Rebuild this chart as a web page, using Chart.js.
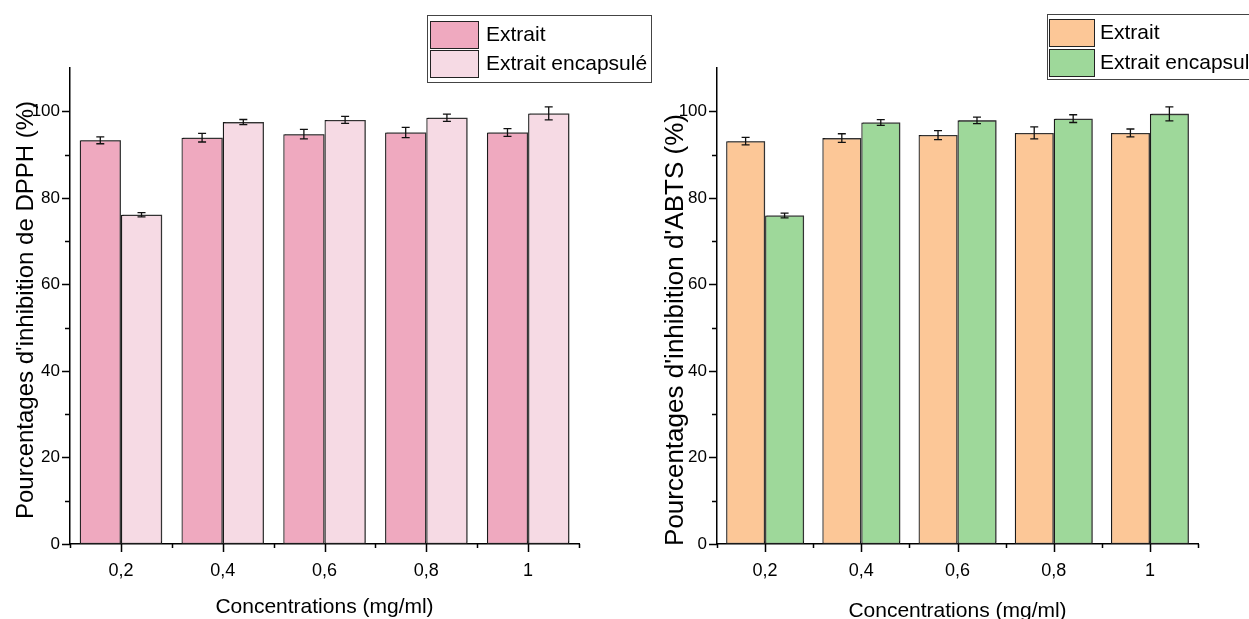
<!DOCTYPE html>
<html>
<head>
<meta charset="utf-8">
<script src="https://cdn.jsdelivr.net/npm/chart.js@4.4.1/dist/chart.umd.min.js"></script>
<style>
  html, body { margin: 0; padding: 0; background: #fff; overflow: hidden; }
  #wrap { position: relative; width: 1249px; height: 619px; }
  canvas { position: absolute; top: 0; }
  #dpph { left: 0; }
  #abts { left: 640px; }
</style>
</head>
<body>
<div id="wrap">
  <canvas id="dpph" width="660" height="619"></canvas>
  <canvas id="abts" width="609" height="619"></canvas>
</div>
<script>
// data
const concentrations = ['0,2', '0,4', '0,6', '0,8', '1'];
const yTicks = [0, 20, 40, 60, 80, 100];

const dpphExtrait = [93.3, 93.9, 94.7, 95.1, 95.1];
const dpphExtraitErr = [0.8, 1.0, 1.1, 1.2, 0.9];
const dpphEncaps = [76.1, 97.5, 98.0, 98.5, 99.5];
const dpphEncapsErr = [0.5, 0.6, 0.8, 0.85, 1.5];

const abtsExtrait = [93.1, 93.8, 94.5, 95.0, 95.0];
const abtsExtraitErr = [0.85, 1.0, 1.05, 1.4, 0.9];
const abtsEncaps = [75.9, 97.4, 97.9, 98.3, 99.4];
const abtsEncapsErr = [0.55, 0.65, 0.75, 0.9, 1.6];

const FONT = '"Liberation Sans", Arial, sans-serif';

// error bars + bar shadow
const errorBars = {
  id: 'errorBars',
  beforeDatasetsDraw(chart) {
    const ctx = chart.ctx;
    ctx.save();
    ctx.shadowColor = 'rgba(60,60,60,0.75)';
    ctx.shadowOffsetX = 1.5;
    ctx.shadowOffsetY = -1.5;
    ctx.shadowBlur = 0;
  },
  afterDatasetsDraw(chart) {
    const ctx = chart.ctx;
    ctx.restore();
    const ys = chart.scales.y;
    ctx.save();
    ctx.strokeStyle = '#111';
    ctx.lineWidth = 1.3;
    chart.data.datasets.forEach((ds, d) => {
      const meta = chart.getDatasetMeta(d);
      ds.err.forEach((e, i) => {
        const x = meta.data[i].x;
        const y1 = ys.getPixelForValue(ds.data[i] + e);
        const y2 = ys.getPixelForValue(ds.data[i] - e);
        ctx.beginPath();
        ctx.moveTo(x, y1); ctx.lineTo(x, y2);
        ctx.moveTo(x - 4, y1); ctx.lineTo(x + 4, y1);
        ctx.moveTo(x - 4, y2); ctx.lineTo(x + 4, y2);
        ctx.stroke();
      });
    });
    ctx.restore();
  }
};

// tick marks, titles and boxed legend
const decorations = {
  id: 'decorations',
  afterDraw(chart, args, opts) {
    const ctx = chart.ctx;
    const xs = chart.scales.x, ys = chart.scales.y;
    const area = chart.chartArea;
    ctx.save();
    ctx.strokeStyle = '#000';
    ctx.lineWidth = 1.5;
    ctx.beginPath();
    for (let v = 0; v <= 100; v += 10) {
      const y = Math.round(ys.getPixelForValue(v)) + 0.5;
      const len = v % 20 === 0 ? 8 : 5;
      ctx.moveTo(area.left - len, y); ctx.lineTo(area.left, y);
    }
    for (let i = 0; i < concentrations.length; i++) {
      const x = Math.round(xs.getPixelForValue(i)) + 0.5;
      ctx.moveTo(x, area.bottom); ctx.lineTo(x, area.bottom + 8);
    }
    for (let i = 0; i <= concentrations.length; i++) {
      const x = Math.round((xs.getPixelForValue(i - 1) + xs.getPixelForValue(i)) / 2) + 0.5;
      ctx.moveTo(x, area.bottom); ctx.lineTo(x, area.bottom + 4);
    }
    ctx.stroke();

    // axis titles
    ctx.fillStyle = '#000';
    ctx.textAlign = 'center';
    ctx.textBaseline = 'alphabetic';
    ctx.font = opts.xTitleSize + 'px ' + FONT;
    ctx.fillText(opts.xTitle, (area.left + area.right) / 2, opts.xTitleY);
    ctx.save();
    ctx.translate(opts.yTitleX, opts.yTitleY);
    ctx.rotate(-Math.PI / 2);
    ctx.textBaseline = 'middle';
    ctx.font = opts.yTitleSize + 'px ' + FONT;
    ctx.fillText(opts.yTitle, 0, 0);
    ctx.restore();

    // legend
    const L = opts.legend;
    ctx.lineWidth = 1;
    ctx.strokeStyle = '#444';
    ctx.strokeRect(L.left + 0.5, L.top + 0.5, L.width, L.height);
    ctx.font = L.size + 'px ' + FONT;
    ctx.textAlign = 'left';
    ctx.textBaseline = 'middle';
    chart.data.datasets.forEach((ds, d) => {
      const top = L.rows[d];
      ctx.fillStyle = ds.backgroundColor;
      ctx.fillRect(L.swX, top, L.swW, L.swH);
      ctx.strokeStyle = '#222';
      ctx.strokeRect(L.swX + 0.5, top + 0.5, L.swW, L.swH);
      ctx.fillStyle = '#000';
      ctx.fillText(ds.label, L.textX, top + L.swH / 2 + 1);
    });
    ctx.restore();
  }
};

function makeChart(id, colors, series, errs, geo) {
  const canvas = document.getElementById(id);
  return new Chart(canvas, {
    type: 'bar',
    data: {
      labels: concentrations,
      datasets: [
        { label: 'Extrait', data: series[0], err: errs[0], backgroundColor: colors[0] },
        { label: 'Extrait encapsulé', data: series[1], err: errs[1], backgroundColor: colors[1] }
      ].map(ds => Object.assign(ds, {
        borderColor: '#1a1a1a', borderWidth: 1.3, borderSkipped: false,
        categoryPercentage: 0.81, barPercentage: 1
      }))
    },
    options: {
      responsive: false,
      maintainAspectRatio: false,
      animation: false,
      devicePixelRatio: 1,
      layout: { padding: { left: 0, top: 68, right: canvas.width - geo.areaRight, bottom: 0 } },
      scales: {
        x: {
          offset: true,
          grid: { display: false, drawTicks: false },
          border: { color: '#000', width: 1.5 },
          ticks: { color: '#000', font: { family: FONT, size: 18 }, padding: 16, maxRotation: 0 },
          afterFit: s => { s.height = canvas.height - 544; }
        },
        y: {
          min: 0, max: 110,
          grid: { display: false, drawTicks: false },
          border: { color: '#000', width: 1.5 },
          ticks: {
            stepSize: 10, autoSkip: false, color: '#000', padding: 10,
            font: { family: FONT, size: 17 },
            callback: v => yTicks.includes(v) ? String(v) : ''
          },
          afterFit: s => { s.width = geo.axisX; }
        }
      },
      plugins: {
        legend: { display: false },
        tooltip: { enabled: false },
        decorations: geo.deco
      }
    },
    plugins: [errorBars, decorations]
  });
}

makeChart('dpph', ['#EFA9BF', '#F6DAE4'], [dpphExtrait, dpphEncaps], [dpphExtraitErr, dpphEncapsErr], {
  axisX: 70, areaRight: 579,
  deco: {
    xTitle: 'Concentrations (mg/ml)', xTitleSize: 21, xTitleY: 613,
    yTitle: "Pourcentages d'inhibition de DPPH (%)", yTitleSize: 24, yTitleX: 26, yTitleY: 310,
    legend: { left: 427, top: 15, width: 224, height: 67, swX: 430, swW: 48, swH: 27, rows: [21, 50], textX: 486, size: 21 }
  }
});

makeChart('abts', ['#FCC797', '#9ED89A'], [abtsExtrait, abtsEncaps], [abtsExtraitErr, abtsEncapsErr], {
  axisX: 77, areaRight: 558,
  deco: {
    xTitle: 'Concentrations (mg/ml)', xTitleSize: 21, xTitleY: 617,
    yTitle: "Pourcentages d'inhibition d'ABTS (%)", yTitleSize: 26, yTitleX: 36, yTitleY: 330,
    legend: { left: 407, top: 14, width: 230, height: 65, swX: 409, swW: 45, swH: 27, rows: [19, 49], textX: 460, size: 21 }
  }
});
</script>
</body>
</html>
